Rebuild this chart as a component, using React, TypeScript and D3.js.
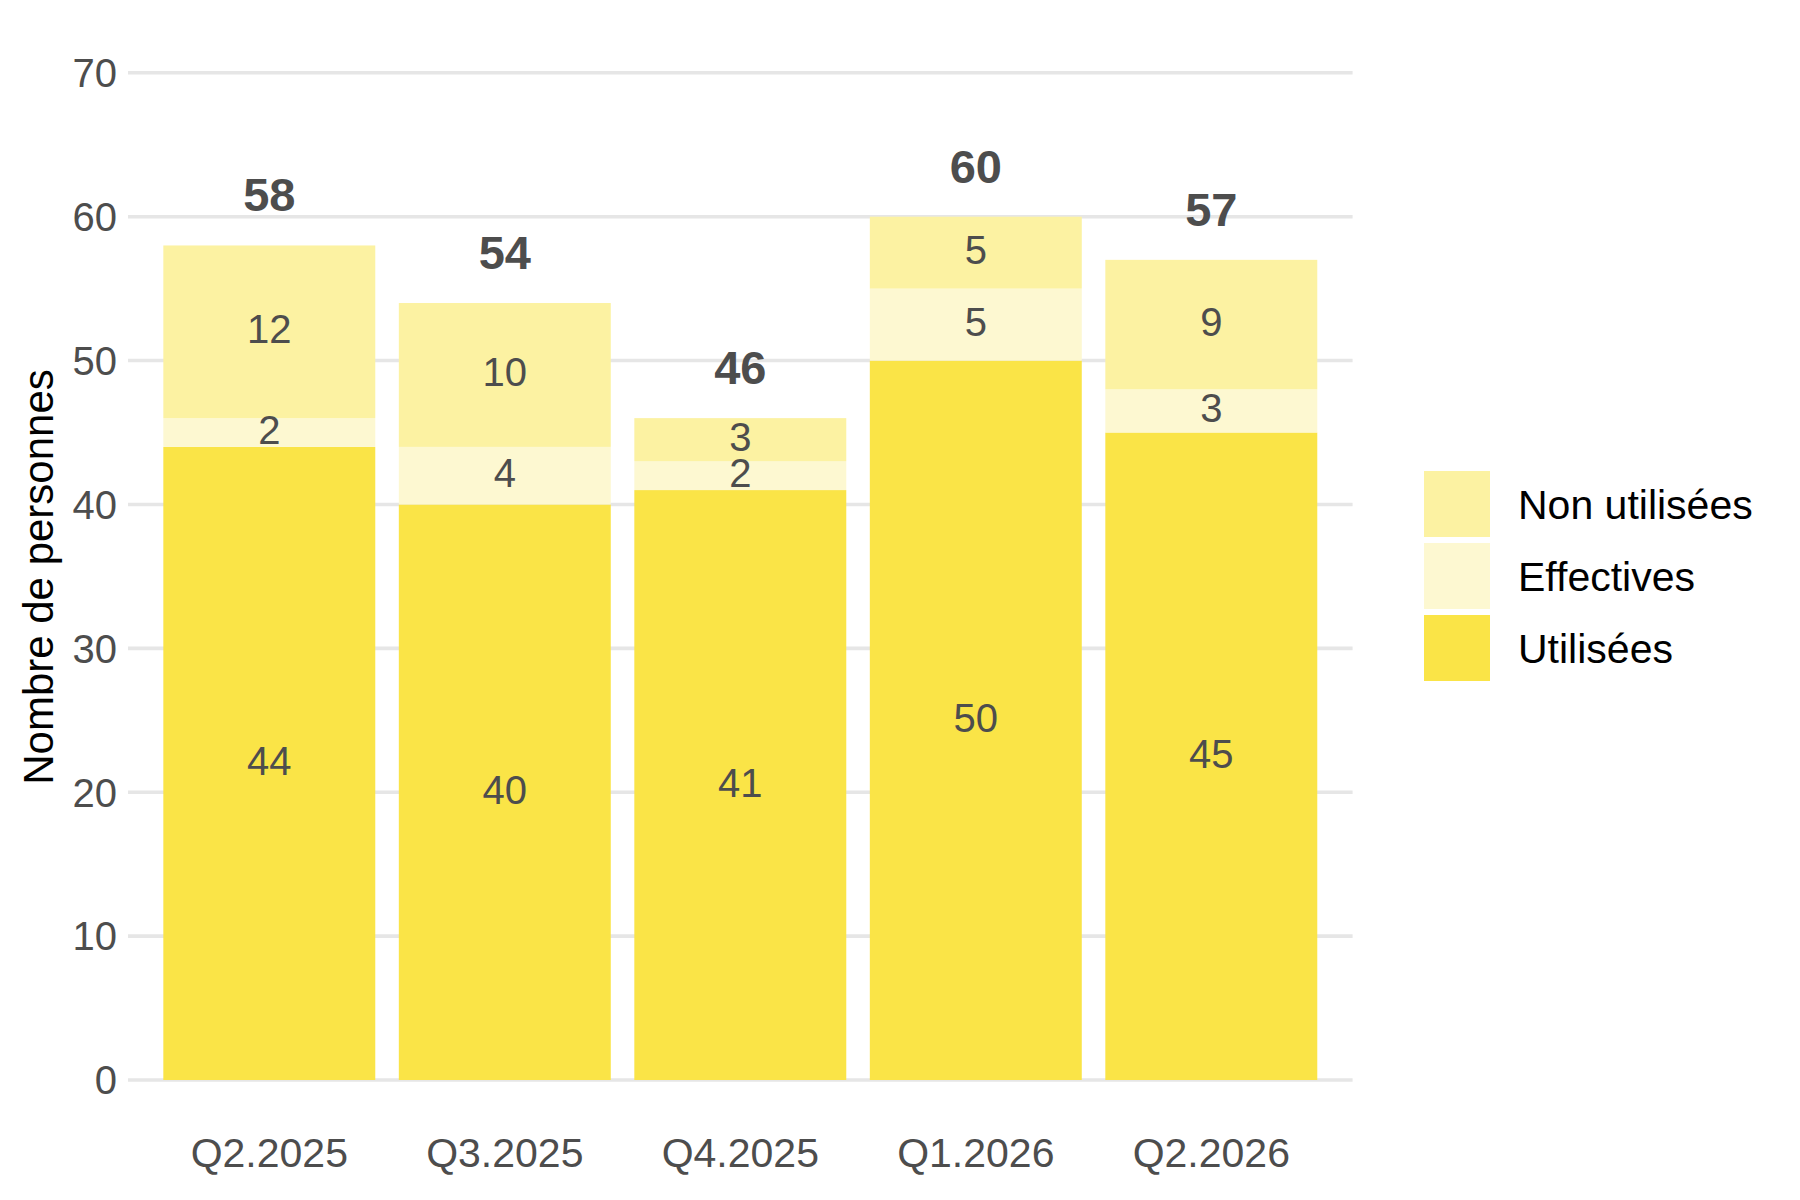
import React from "react";
import * as d3 from "d3";

const categories = ["Q2.2025", "Q3.2025", "Q4.2025", "Q1.2026", "Q2.2026"];
const utilisees = [44, 40, 41, 50, 45];
const effectives = [2, 4, 2, 5, 3];
const nonUtilisees = [12, 10, 3, 5, 9];
const seriesKeys = ["Utilisées", "Effectives", "Non utilisées"];
const seriesColors = ["#FAE447", "#FDF8D1", "#FCF2A2"];
const yTicks = [0, 10, 20, 30, 40, 50, 60, 70];
const legendOrder = ["Non utilisées", "Effectives", "Utilisées"];

const FONT = "'Liberation Sans', Arial, Helvetica, sans-serif";
const TEXT_GREY = "#4D4D4D";

export default function App() {
  const W = 1800;
  const H = 1200;
  const left = 128;
  const right = 1352.6;
  const top = 72.8;
  const bottom = 1080;

  const rows = categories.map((c, i) => ({
    cat: c,
    "Utilisées": utilisees[i],
    "Effectives": effectives[i],
    "Non utilisées": nonUtilisees[i],
  }));
  const totals = categories.map((_, i) => utilisees[i] + effectives[i] + nonUtilisees[i]);

  const x = d3
    .scaleBand<string>()
    .domain(categories)
    .range([left, right])
    .paddingInner(0.1)
    .paddingOuter(0.15);
  const y = d3.scaleLinear().domain([0, 70]).range([bottom, top]);

  const stack = d3.stack<any>().keys(seriesKeys);
  const stacked = stack(rows);
  const color = d3.scaleOrdinal<string, string>().domain(seriesKeys).range(seriesColors);

  const keyX = 1424;
  const keyTop = 471;
  const keySize = 66;
  const keyStep = 72;

  return (
    <svg
      width={W}
      height={H}
      viewBox={`0 0 ${W} ${H}`}
      style={{ position: "absolute", left: 0, top: 0, background: "#FFFFFF" }}
      fontFamily={FONT}
    >
      <rect x={0} y={0} width={W} height={H} fill="#FFFFFF" />
      {/* gridlines */}
      {yTicks.map((t) => (
        <line
          key={"g" + t}
          x1={left}
          x2={right}
          y1={y(t)}
          y2={y(t)}
          stroke="#E6E6E6"
          strokeWidth={3.6}
        />
      ))}
      {/* y tick labels */}
      {yTicks.map((t) => (
        <text
          key={"yt" + t}
          x={117}
          y={y(t) + 14.3}
          textAnchor="end"
          fontSize={40}
          fill={TEXT_GREY}
        >
          {t}
        </text>
      ))}
      {/* y axis title */}
      <text
        transform={`translate(53,577) rotate(-90)`}
        textAnchor="middle"
        fontSize={42}
        fill="#000000"
      >
        Nombre de personnes
      </text>
      {/* bars */}
      {stacked.map((s) => (
        <g key={s.key} fill={color(s.key)}>
          {s.map((d, i) => (
            <rect
              key={i}
              x={x(categories[i])}
              width={x.bandwidth()}
              y={y(d[1])}
              height={y(d[0]) - y(d[1])}
            />
          ))}
        </g>
      ))}
      {/* segment labels */}
      {stacked.map((s) => (
        <g key={"l" + s.key}>
          {s.map((d, i) => (
            <text
              key={i}
              x={(x(categories[i]) as number) + x.bandwidth() / 2}
              y={y((d[0] + d[1]) / 2) + 11.5}
              textAnchor="middle"
              fontSize={40}
              fill={TEXT_GREY}
            >
              {d[1] - d[0]}
            </text>
          ))}
        </g>
      ))}
      {/* totals */}
      {totals.map((t, i) => (
        <text
          key={"t" + i}
          x={(x(categories[i]) as number) + x.bandwidth() / 2}
          y={y(t) - 34}
          textAnchor="middle"
          fontSize={47}
          fontWeight="bold"
          fill={TEXT_GREY}
        >
          {t}
        </text>
      ))}
      {/* x labels */}
      {categories.map((c) => (
        <text
          key={"x" + c}
          x={(x(c) as number) + x.bandwidth() / 2}
          y={1167}
          textAnchor="middle"
          fontSize={41}
          fill={TEXT_GREY}
        >
          {c}
        </text>
      ))}
      {/* legend */}
      {legendOrder.map((k, i) => (
        <g key={"leg" + k}>
          <rect
            x={keyX}
            y={keyTop + i * keyStep}
            width={keySize}
            height={keySize}
            fill={color(k)}
          />
          <text
            x={1518}
            y={keyTop + i * keyStep + keySize / 2 + 14.7}
            fontSize={41}
            fill="#000000"
          >
            {k}
          </text>
        </g>
      ))}
    </svg>
  );
}
